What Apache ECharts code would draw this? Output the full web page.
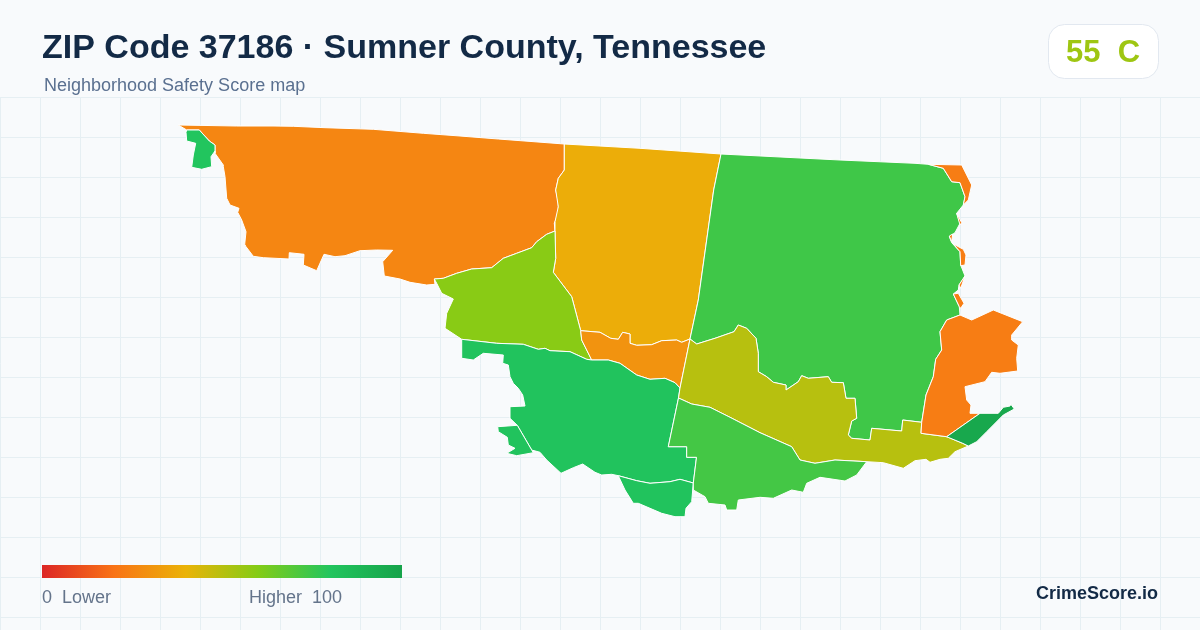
<!DOCTYPE html>
<html>
<head>
<meta charset="utf-8">
<title>ZIP Code 37186</title>
<script src="https://cdn.jsdelivr.net/npm/echarts@6/dist/echarts.min.js"></script>
<style>
html,body{margin:0;padding:0;background:#f8fafc;}
#main{width:1200px;height:630px;}
</style>
</head>
<body>
<div id="main"></div>
<script>
var regionNames = ['nw','nwSmall','north','east','lime','midOrange','south','swBit','southBit','olive','southGreen','eastOrange','seDark'];
var regionScores = [26, 80, 38, 74, 59, 30, 81, 81, 81, 50, 73, 23, 97];
var overallScore = 55;
var overallGrade = 'C';
var scaleColors = ['#dc2626','#f97316','#eab308','#84cc16','#22c55e','#16a34a'];

// shared borders
var edgeAC = [[564.3,144],[564.3,170],[558.3,178.3],[555.7,190],[558.3,201.7],[558.3,213.3],[554.3,223.3],[555,231]];
var edgeAE = [[555,231],[546.7,234.3],[536.7,241.7],[531.7,247.7],[516.7,253.3],[503.3,258.3],[491.7,267.7],[471.7,269],[456.7,273.3],[443.3,278.3],[434.3,279]];
var edgeAB = [[215,153.3],[215,145],[209.3,141],[199.3,130],[186.7,130]];
var edgeCE = [[555,231],[555.7,258.3],[553.3,272.3],[571.7,296.7],[580.7,330.7]];
var edgeCF = [[690,339],[681.7,342.3],[676.7,340],[661.7,340.7],[651.7,344.7],[636.7,345.3],[630,343.3],[630,334],[622.7,332.3],[618.3,339.3],[610.7,338.3],[600,332.3],[580.7,330.7]];
var edgeCD = [[721,154],[713.7,190],[706.7,240],[698.3,300],[690,339]];
var edgeEF = [[580.7,330.7],[581.7,340],[591.7,360]];
var edgeEG = [[591.7,360],[586.7,359.3],[570,351.7],[550,350.7],[545,348.3],[538.3,349.3],[523.3,344.3],[496.7,343.3],[461.7,339.3]];
var edgeFG = [[591.7,360],[608.3,360],[620,363.3],[636.7,375],[650,379.3],[665,378.3],[675,382.7],[680,388]];
var edgeFH = [[680,388],[690,339]];
var edgeGH = [[678.5,398],[680,388]];
var edgeGI = [[678.5,398],[668.3,446.7],[686.7,446.7],[686.7,457.3],[696.5,457.3],[693.3,483]];
var edgeGS = [[693.3,483],[680,479.3],[670,481.7],[650,483.3],[636.7,480.7],[618.3,475.7]];
var edgeGB = [[531.7,450],[517.3,425.3]];
var edgeHI = [[678.5,398],[691.7,404],[710,407.3],[730,417.3],[760,432.7],[791.7,446.7],[800,460],[815,463.3],[835,460],[866.7,461.7]];
var edgeDH = [[690,339],[696.7,344],[715,338.3],[734,331.7],[738.3,325],[746.7,328.3],[756,338.3],[758.3,353.3],[758.3,371.7],[766.7,376.7],[773.3,382.3],[786,385],[786,390],[798.3,381.7],[801.7,375.7],[808.3,378.3],[828.3,376.7],[831.7,382.3],[843.3,382.7],[846,398.3],[855,398.3],[856.7,418.3],[851.7,421],[848.3,435],[851.7,438.3],[870,440],[871.7,428.3],[901.7,431],[902.7,420],[921.7,422.3]];
var edgeDJ = [[960,315],[946.7,320],[940,331.7],[941.7,350],[935.7,359.3],[933.3,376.7],[926,395],[921.7,422.3]];
var edgeHJ = [[921.7,422.3],[921,433.3],[946.7,436.7]];
var edgeHL = [[946.7,436.7],[962.7,443.3],[968.3,446]];
var edgeJL = [[946.7,436.7],[980,413.3]];
var edgeDF = [[928.3,164.3],[943.3,168.3],[951.7,181.7],[960,182.7],[965,196.7],[963.3,205]];

var outlineNW = [[178.3,125],[236.7,126],[273,126],[293.3,126.3],[325,127.7],[373.3,129.3],[423.3,133.3],[460,136],[498.3,139]]
  .concat(edgeAC).concat(edgeAE)
  .concat([[435,284.3],[426.7,285],[410,282.3],[400,279],[384.3,276],[382.7,261.7],[392.7,250.3],[376.7,250],[360,250.7],[345,255.7],[335,256.7],[324,254.3],[316.7,270.7],[303.3,265],[304,254.3],[289.3,252.7],[289,259],[263.3,257.7],[253.3,256.3],[246,246.7],[244.7,244.3],[246,231.7],[241.7,220],[237.7,212.3],[239,208.3],[230,205],[226.7,198.3],[225,176.7],[223.3,166.7],[223.3,165]])
  .concat(edgeAB);
var outlineSmall = [[186,132.3]].concat(edgeAB.slice().reverse())
  .concat([[215,151],[211,156.7],[211.7,166.7],[201.7,169.3],[191.7,167.3],[193.3,155],[195.7,143.3],[186.7,141]]);
var outlineNorth = [[564.3,144],[640,148.3]].concat(edgeCD).concat(edgeCF)
  .concat(edgeCE.slice().reverse())
  .concat([[555,221.7],[558.3,206.7],[555.7,190],[558.3,178.3],[564.3,170]]);
var outlineEast = [[721,154],[840,160],[915,163.3]].concat(edgeDF)
  .concat([[956.7,213.3],[960,223.3],[955,232.7],[949.3,236.7],[951.7,242.7],[960,251.7],[960.7,265],[965,276],[959,285],[958.3,290],[953.3,294],[959.3,306.7]])
  .concat(edgeDJ).concat(edgeDH.slice().reverse()).concat(edgeCD.slice().reverse());
var outlineLime = edgeAE.concat([[436.7,283.3],[441.7,293.3],[453.3,299],[446.7,313.3],[445,328.3]])
  .concat(edgeEG.slice().reverse()).concat(edgeEF.slice().reverse()).concat(edgeCE.slice().reverse());
var outlineMid = edgeCF.concat(edgeEF).concat(edgeFG).concat(edgeFH);
var outlineSouth = edgeEG.slice().reverse().concat(edgeFG).concat(edgeGH.slice().reverse()).concat(edgeGI).concat(edgeGS)
  .concat([[611.7,474.3],[601.7,475],[595,472.3],[582.7,464],[573.3,467.7],[561,473.3],[546.7,460],[540,452.3]])
  .concat(edgeGB)
  .concat([[510,418.3],[510,406.7],[525,406],[522.7,395],[518.3,388.3],[513.3,383.3],[510,376.7],[508.3,365],[502.7,363.3],[503.3,355],[483.3,353.3],[473.3,360],[461.7,358.3]]);
var outlineSwBit = edgeGB.slice().reverse()
  .concat([[533.3,452.7],[516.7,455.7],[506.7,453.3],[515,448.3],[508.3,445],[507.3,437.3],[498.3,431.7],[497.7,426.7]]);
var outlineSouthBit = edgeGS.concat([[625,490],[633.3,503.3],[638.3,503.3],[650,508.3],[661.7,513.3],[675,516.7],[685,516.7],[686,508.3],[691.7,501.7]]);
var outlineOlive = [[690,339]].concat(edgeDH).concat(edgeHJ).concat(edgeHL)
  .concat([[955,451.7],[948.3,458.3],[940,459.3],[930,462.3],[926,459.3],[915,460.7],[903.3,468.3],[883.3,462.7]])
  .concat(edgeHI.slice().reverse()).concat(edgeGH);
var outlineSouthGreen = edgeHI.concat([[856.7,475],[845,481],[820,477.3],[806.7,483.3],[803.3,492.3],[791.7,490],[773.3,498.3],[760,497.3],[738.3,500],[736.7,510],[726.7,510],[725,505],[708.3,503.3],[705,496.7],[693.3,490]])
  .concat(edgeGI.slice().reverse());
var outlineOrange = [[960,315],[971.7,320],[993.3,310],[1022.7,321.7],[1011.7,335],[1011.7,340],[1018.3,345],[1016.7,358.3],[1017.7,371],[1000,373.3],[991.7,372.3],[985,381.7],[965,386.7],[966.7,400],[971,405],[970,413.3]]
  .concat(edgeJL.slice().reverse()).concat(edgeHJ.slice().reverse()).concat(edgeDJ.slice().reverse());
var fringeTop = [[928.3,164.3],[961.7,165],[966.7,175],[971.7,185],[968.3,200],[963.3,205],[965,196.7],[960,182.7],[951.7,181.7],[943.3,168.3]];
var fringeA = [[956.7,213.3],[961.7,222.7],[960,225]];
var fringeB = [[949.3,236],[952.7,234],[951.7,241.7]];
var fringeC = [[953.3,244],[963.3,249.3],[966,255],[965,265],[960.7,265.7],[960,251.7]];
var fringeD = [[965,276],[966,276.7],[960.7,288.3],[959,285]];
var fringeE = [[953.3,294],[958.3,293.3],[964,303.3],[960.7,308.3],[959.3,306.7]];
var outlineDark = edgeJL.concat([[998.3,413.3],[1003.3,407.3],[1010,406],[1010.7,404],[1014.3,409],[1003.3,415],[986.7,431.7],[976.7,441.7]])
  .concat(edgeHL.slice().reverse());

var regionShapes = [
  [outlineNW],[outlineSmall],[outlineNorth],[outlineEast],[outlineLime],[outlineMid],[outlineSouth],
  [outlineSwBit],[outlineSouthBit],[outlineOlive],[outlineSouthGreen],
  [outlineOrange,fringeTop,fringeA,fringeB,fringeC,fringeD,fringeE],[outlineDark]
];

var features = [];
var mapData = [];
for(var i = 0; i < regionNames.length; i++){
  var rings = [];
  for(var j = 0; j < regionShapes[i].length; j++){
    rings.push([regionShapes[i][j].concat([regionShapes[i][j][0]])]);
  }
  features.push({
    type:'Feature',
    properties:{name:regionNames[i]},
    geometry:{type:'MultiPolygon',coordinates:rings}
  });
  mapData.push({name:regionNames[i],value:regionScores[i]});
}
echarts.registerMap('zip37186',{type:'FeatureCollection',features:features});

// legend bar, the visualMap's own bar has rounded corners
var barStops = [];
for(var k = 0; k < scaleColors.length; k++){
  barStops.push({offset:k/(scaleColors.length-1),color:scaleColors[k]});
}

var chart = echarts.init(document.getElementById('main'));
var fontName = '"Liberation Sans", Arial, sans-serif';

chart.setOption({
  animation:false,
  backgroundColor:'#f8fafc',
  textStyle:{fontFamily:fontName},
  grid:{left:0,right:0,top:97,bottom:0},
  xAxis:{
    type:'value',min:0,max:1200,interval:40,
    axisLine:{show:false},axisTick:{show:false},axisLabel:{show:false},
    splitLine:{show:true,lineStyle:{color:'#e6eff3',width:1}}
  },
  yAxis:{
    type:'value',inverse:true,min:0,max:533,interval:40,
    axisLine:{show:false},axisTick:{show:false},axisLabel:{show:false},
    splitLine:{show:true,lineStyle:{color:'#e6eff3',width:1}}
  },
  visualMap:{
    type:'continuous',
    show:false,
    seriesIndex:0,
    min:0,max:100,
    inRange:{color:scaleColors}
  },
  series:[{
    type:'map',
    map:'zip37186',
    projection:{
      project:function(p){return p;},
      unproject:function(p){return p;}
    },
    boundingCoords:[[0,0],[1200,630]],
    aspectScale:1,
    left:0,top:0,width:1200,height:630,
    roam:false,
    silent:true,
    selectedMode:false,
    label:{show:false},
    emphasis:{disabled:true},
    itemStyle:{borderColor:'#ffffff',borderWidth:1},
    data:mapData
  }],
  graphic:[
    {type:'text',z:100,left:42,top:32,style:{text:'ZIP Code 37186 · Sumner County, Tennessee',font:'bold 34px '+fontName,fill:'#132a46'}},
    {type:'text',z:100,left:44,top:77,style:{text:'Neighborhood Safety Score map',font:'18px '+fontName,fill:'#5a7090'}},
    {type:'rect',z:100,shape:{x:1048.5,y:24.5,width:110,height:54,r:16},style:{fill:'#ffffff',stroke:'#e2e8f0',lineWidth:1}},
    {type:'text',z:101,left:1066,top:38,style:{text:overallScore+'  '+overallGrade,font:'bold 31px '+fontName,fill:'#9ec612'}},
    {type:'rect',z:100,shape:{x:42,y:565,width:360,height:13},style:{fill:new echarts.graphic.LinearGradient(0,0,1,0,barStops)}},
    {type:'text',z:100,left:42,top:589,style:{text:'0  Lower',font:'18px '+fontName,fill:'#64748b'}},
    {type:'text',z:100,left:249,top:589,style:{text:'Higher  100',font:'18px '+fontName,fill:'#64748b'}},
    {type:'text',z:100,right:42,top:585,style:{text:'CrimeScore.io',font:'bold 18px '+fontName,fill:'#132a46'}}
  ]
});
</script>
</body>
</html>
